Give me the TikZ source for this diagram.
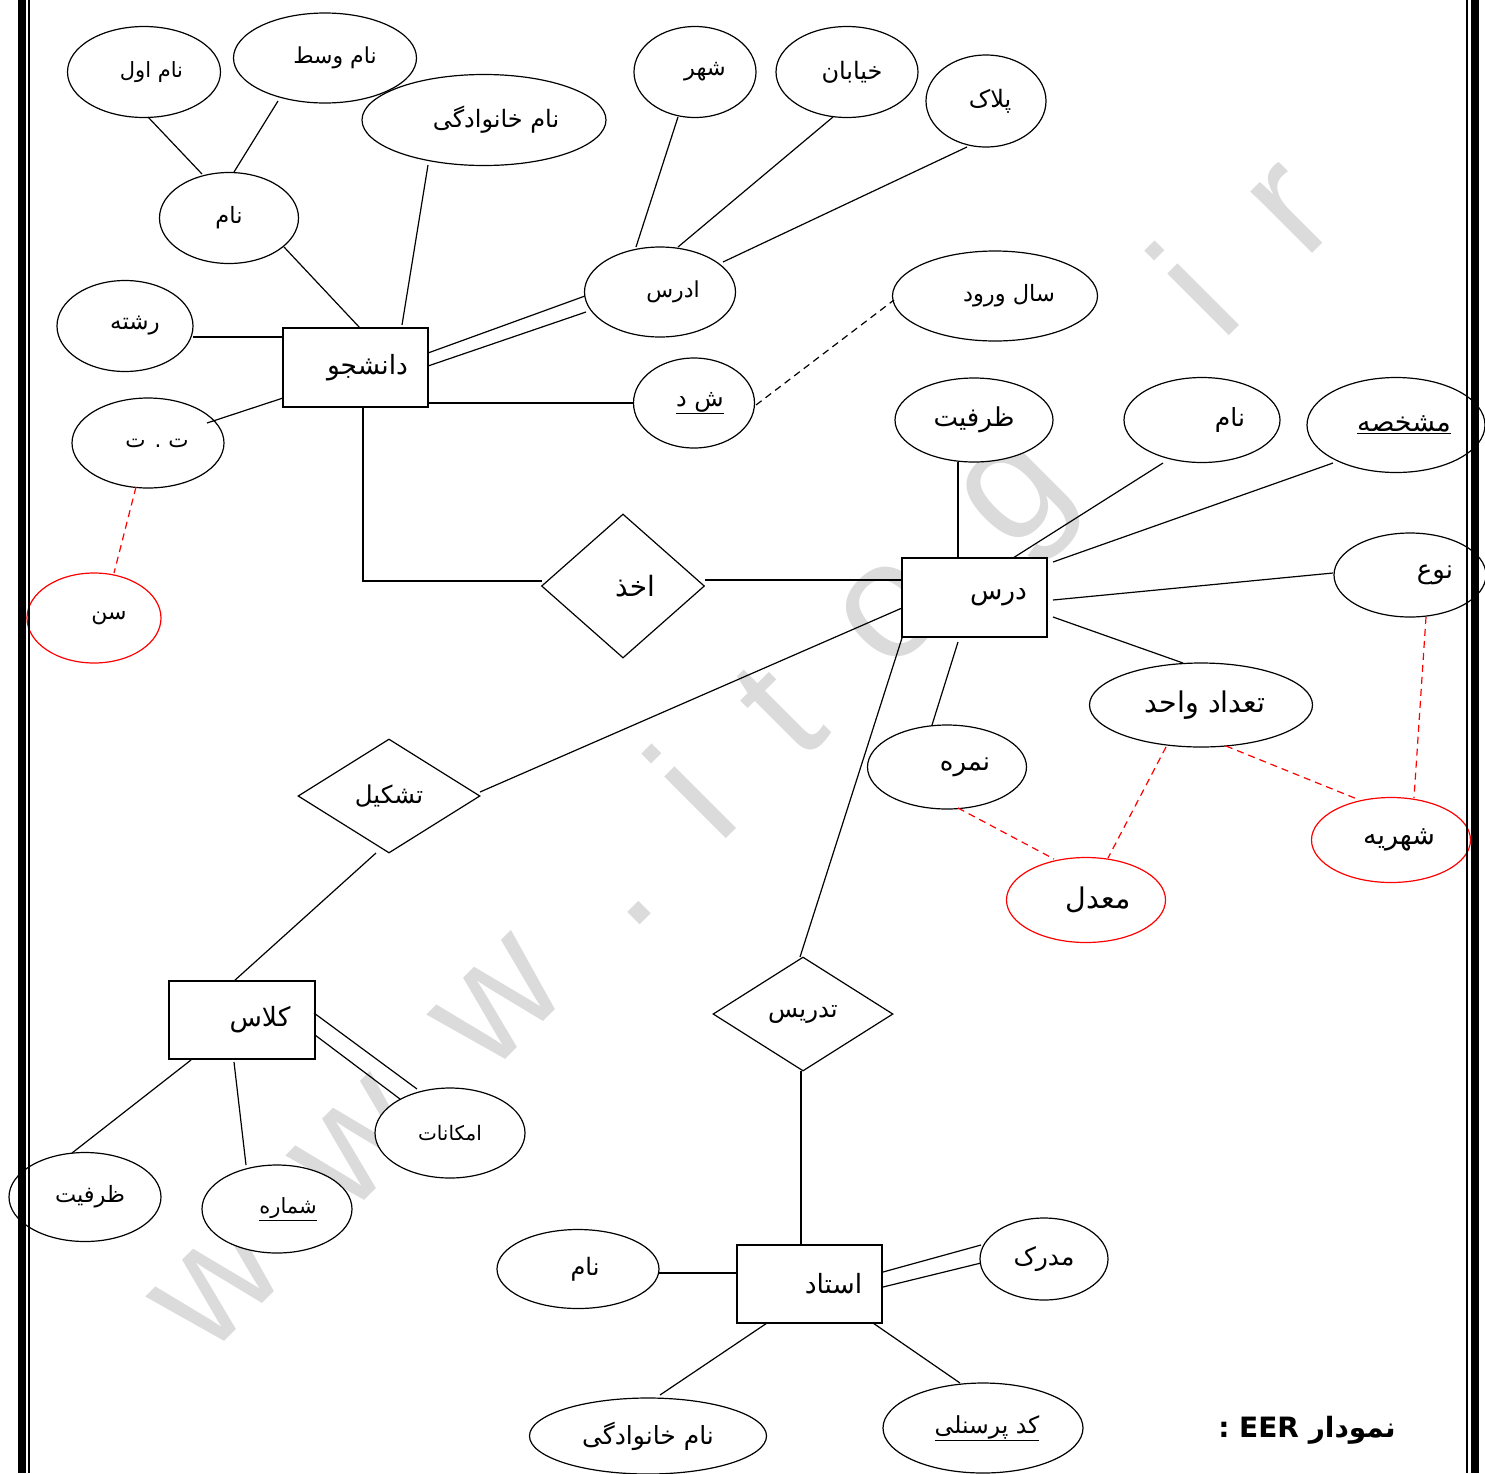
\documentclass[tikz,border=0pt]{standalone}
\usepackage{fontspec}
\usetikzlibrary{shapes.geometric,calc}
\TeXXeTstate=1
\newfontfamily\arabicfont[Script=Arabic]{DejaVu Sans}
\newfontfamily\wmfont{Liberation Sans}
\newcommand\pers[2][0]{\hspace*{#1pt}{\arabicfont\beginR #2\endR}}
\newcommand\wg{\hspace{80pt}}
\tikzset{
 ln/.style={line width=1.2pt},
 sz/.style 2 args={minimum width=#1pt, minimum height=#2pt},
 fs/.style={font=\fontsize{#1}{#1}\selectfont},
 ent/.style={draw, rectangle, fill=white, line width=1.2pt, inner sep=0pt, minimum width=145pt, minimum height=79pt, fs=26.5},
 att/.style={draw, ellipse, fill=white, line width=1.2pt, inner sep=0pt, fs=22.5},
 attbig/.style={att, fs=27},
 der/.style={draw=red},
 rel/.style={draw, diamond, fill=white, line width=1.2pt, inner sep=0pt, fs=24.5},
 rdash/.style={ln, red, dash pattern=on 7pt off 5pt},
 bdash/.style={ln, dash pattern=on 7pt off 5pt},
}
\begin{document}
\begin{tikzpicture}[x=1pt,y=-1pt]
\useasboundingbox (0,0) rectangle (1485,1473);
\fill[white] (0,0) rectangle (1485,1473);
% watermark
\node[rotate=45, text=black!14, font=\wmfont\fontsize{165}{165}\selectfont] (wm) at (745,760) {w\wg w\wg w\wg .\wg i\wg t\wg o\wg g\wg .\wg i\wg r};

% ---------- nodes ----------
\node[ent] (dan) at (355.5,367.5) {\pers[24]{دانشجو}};
\node[att, sz={153}{91}, fs=21] (namaval) at (144,72) {\pers[15]{نام اول}};
\node[att, sz={183}{90}, fs=22] (namvasat) at (325,58) {\pers[20]{نام وسط}};
\node[att, sz={244}{91}, fs=24] (famS) at (484,120) {\pers[24]{نام خانوادگی}};
\node[att, sz={139}{91}] (namS) at (229,218) {\pers{نام}};
\node[att, sz={136}{91}, fs=23] (reshte) at (125,326) {\pers[20]{رشته}};
\node[att, sz={152}{90}, fs=21.5] (tt) at (148,443) {\pers[18]{ت . ت}};
\node[att, der, sz={134}{90}, fs=22] (sen) at (94,618) {\pers[30]{سن}};
\node[att, sz={122}{91}] (shahr) at (695,72) {\pers[20]{شهر}};
\node[att, sz={142}{91}, fs=24] (khiaban) at (847,72) {\pers[10]{خیابان}};
\node[att, sz={120}{92}, fs=24] (pelak) at (986,101) {\pers[8]{پلاک}};
\node[att, sz={151}{90}, fs=22] (adres) at (660,292) {\pers[26]{ادرس}};
\node[att, sz={205}{90}] (salvorud) at (995,296) {\pers[28]{سال ورود}};
\node[att, sz={121}{90}, fs=24] (shd) at (694,403) {\hspace*{12pt}\underline{\pers{ش د}}};

\node[ent] (dars) at (974.5,597.5) {\pers[48]{درس}};
\node[rel, sz={163}{144}, fs=28] (akhz) at (623,586) {\pers[24]{اخذ}};
\node[attbig, sz={158}{84}, fs=26] (zarfC) at (974,420) {\pers{ظرفیت}};
\node[attbig, sz={156}{85}, fs=25] (namC) at (1202,420) {\pers[56]{نام}};
\node[attbig, sz={178}{95}] (moshakh) at (1396,425) {\hspace*{16pt}\underline{\pers{مشخصه}}};
\node[attbig, sz={152}{84}, fs=26] (now) at (1410,575) {\pers[50]{نوع}};
\node[attbig, sz={223}{84}, fs=28.5] (tedad) at (1201,705) {\pers[8]{تعداد واحد}};
\node[attbig, sz={159}{84}, fs=26] (nomre) at (947,767) {\pers[36]{نمره}};
\node[attbig, der, sz={159}{85}, fs=28.5] (moadel) at (1086,900) {\pers[24]{معدل}};
\node[attbig, der, sz={159}{85}] (shahrie) at (1391,840) {\pers[16]{شهریه}};

\node[rel, sz={182}{114}] (tashkil) at (389,796) {\pers{تشکیل}};
\node[rel, sz={180}{114}] (tadris) at (803,1014) {\pers{تدریس}};

\node[ent, sz={146}{78}] (kelas) at (242,1020) {\pers[36]{کلاس}};
\node[att, sz={150}{90}, fs=20] (emkanat) at (450,1133) {\pers{امکانات}};
\node[att, sz={152}{89}] (zarfK) at (85,1197) {\pers[10]{ظرفیت}};
\node[att, sz={150}{88}, fs=21] (shomare) at (277,1209) {\hspace*{22pt}\underline{\pers{شماره}}};

\node[ent, sz={145}{78}] (ostad) at (809.5,1284) {\pers[48]{استاد}};
\node[att, sz={162}{79}, fs=24] (namO) at (578,1269) {\pers[14]{نام}};
\node[att, sz={128}{82}, fs=25] (madrak) at (1044,1259) {\pers{مدرک}};
\node[att, sz={237}{76}, fs=25] (famO) at (648,1436) {\pers{نام خانوادگی}};
\node[att, sz={200}{90}, fs=23.5] (code) at (983,1428) {\hspace*{8pt}\underline{\pers{کد پرسنلی}}};

\node[font=\bfseries\fontsize{28}{32}\selectfont, inner sep=0pt] (eer) at (1307,1430) {\arabicfont\beginR نمودار \beginL EER\endL{} :\endR};

% ---------- connectors ----------
\draw[ln] ($(namaval)+(4,45)$) -- ($(namS)+(-27,-44)$);
\draw[ln] ($(namvasat)+(-47,43)$) -- ($(namS)+(5,-46)$);
\draw[ln] ($(namS)+(55,29)$) -- ($(dan)+(4.5,-39.5)$);
\draw[ln] ($(famS)+(-56,45)$) -- ($(dan)+(46.5,-42.5)$);
\draw[ln] ($(reshte)+(68,11)$) -- ($(dan)+(-72.5,-30.5)$);
\draw[ln] ($(tt)+(59,-20)$) -- ($(dan)+(-72.5,30.5)$);
\draw[rdash] ($(tt)+(-12,44)$) -- ($(sen)+(20,-45)$);
\draw[ln] ($(dan)+(72.5,-14.5)$) -- ($(adres)+(-75,4)$);
\draw[ln] ($(dan)+(72.5,-1.5)$) -- ($(adres)+(-74,20)$);
\draw[ln] ($(shahr)+(-17,45)$) -- ($(adres)+(-24,-45)$);
\draw[ln] ($(khiaban)+(-14,45)$) -- ($(adres)+(18,-45)$);
\draw[ln] ($(pelak)+(-19,46)$) -- ($(adres)+(63,-30)$);
\draw[ln] ($(dan)+(72.5,35.5)$) -- ($(shd)+(-61,0)$);
\draw[bdash] ($(shd)+(62,2)$) -- ($(salvorud)+(-101,4)$);
\draw[ln] ($(dan)+(7.5,39.5)$) |- ($(akhz)+(-81,-5)$);
\draw[ln] ($(akhz)+(82,-6)$) -- ($(dars)+(-72.5,-17.5)$);
\draw[ln] ($(dars)+(-16.5,-39.5)$) -- ($(zarfC)+(-16,42)$);
\draw[ln] ($(dars)+(38.5,-39.5)$) -- ($(namC)+(-39,43)$);
\draw[ln] ($(dars)+(78.5,-35.5)$) -- ($(moshakh)+(-63,38)$);
\draw[ln] ($(dars)+(78.5,2.5)$) -- ($(now)+(-77,-2)$);
\draw[ln] ($(dars)+(78.5,19.5)$) -- ($(tedad)+(-18,-42)$);
\draw[ln] ($(dars)+(-16.5,44.5)$) -- ($(nomre)+(-15,-42)$);
\draw[ln] ($(dars)+(-72.5,10.5)$) -- ($(tashkil)+(91,-4)$);
\draw[ln] ($(dars)+(-72.5,40.5)$) -- ($(tadris)+(-3,-57)$);
\draw[rdash] ($(tedad)+(-35,42)$) -- ($(moadel)+(22,-42)$);
\draw[rdash] ($(tedad)+(25,41)$) -- ($(shahrie)+(-34,-41)$);
\draw[rdash] ($(now)+(16,42)$) -- ($(shahrie)+(23,-42)$);
\draw[rdash] ($(nomre)+(11,41)$) -- ($(moadel)+(-32,-41)$);
\draw[ln] ($(tashkil)+(-13,57)$) -- ($(kelas)+(-8,-39)$);
\draw[ln] ($(kelas)+(72,-7)$) -- ($(emkanat)+(-33,-44)$);
\draw[ln] ($(kelas)+(73,15)$) -- ($(emkanat)+(-50,-34)$);
\draw[ln] ($(kelas)+(-51,40)$) -- ($(zarfK)+(-13,-44)$);
\draw[ln] ($(kelas)+(-8,42)$) -- ($(shomare)+(-31,-44)$);
\draw[ln] ($(tadris)+(-2,57)$) -- ($(ostad)+(-8.5,-39)$);
\draw[ln] ($(namO)+(81,4)$) -- ($(ostad)+(-72.5,-11)$);
\draw[ln] ($(ostad)+(73.5,-12)$) -- ($(madrak)+(-63,-14)$);
\draw[ln] ($(ostad)+(73.5,3)$) -- ($(madrak)+(-63,4)$);
\draw[ln] ($(ostad)+(-42.5,39)$) -- ($(famO)+(12,-41)$);
\draw[ln] ($(ostad)+(63.5,39)$) -- ($(code)+(-23,-45)$);

% ---------- page borders ----------
\fill[black] (18,0) rectangle (26,1473);
\draw[line width=1.6pt] (29,0) -- (29,1473);
\draw[line width=1.6pt] (1467,0) -- (1467,1473);
\fill[black] (1471,0) rectangle (1479,1473);
\end{tikzpicture}
\end{document}
